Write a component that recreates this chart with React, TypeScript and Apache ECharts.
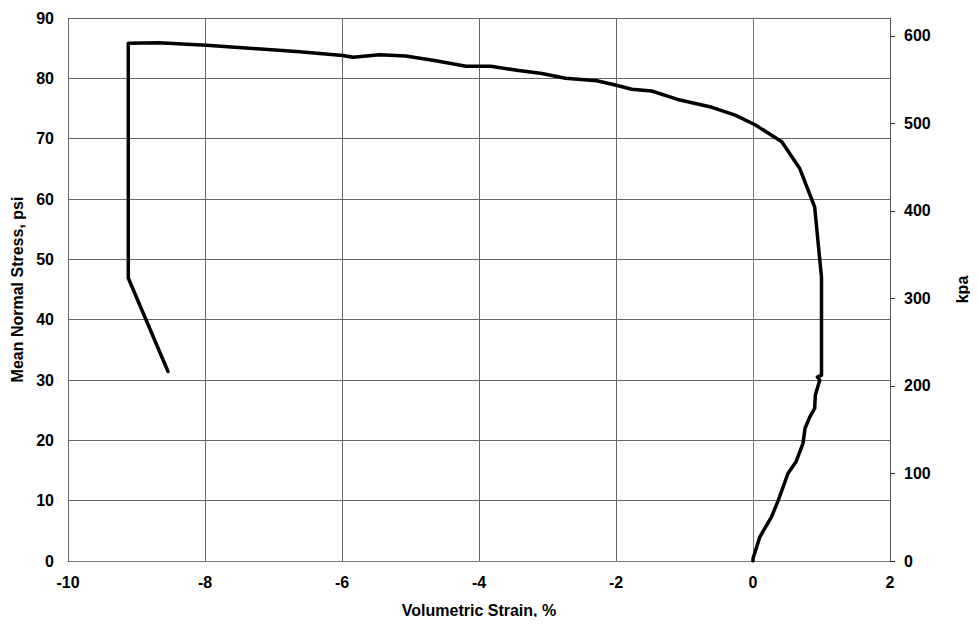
import React, { useEffect, useRef } from "react";
import * as echarts from "echarts";

const strainPct = [
  0.0, 0.0, 0.1, 0.27, 0.37, 0.51, 0.63, 0.73, 0.76, 0.83, 0.9, 0.91, 0.975, 0.94, 1.0,
  1.0, 1.0, 0.975, 0.9, 0.68, 0.42, 0.03, -0.26, -0.6, -1.1, -1.48, -1.77, -2.01, -2.28,
  -2.74, -3.08, -3.42, -3.83, -4.19, -4.63, -5.07, -5.45, -5.84, -5.99, -6.62, -7.35,
  -7.98, -8.68, -9.12, -9.12, -9.12, -8.54,
];
const stressPsi = [
  0.0, 0.4, 4.0, 7.3, 10.1, 14.5, 16.5, 19.5, 22.0, 23.9, 25.3, 27.5, 30.0, 30.5, 30.8,
  43.3, 47.0, 49.9, 58.7, 65.1, 69.5, 72.3, 73.9, 75.2, 76.5, 77.9, 78.2, 78.9, 79.6,
  80.0, 80.8, 81.3, 82.0, 82.0, 82.9, 83.7, 83.9, 83.5, 83.8, 84.4, 85.0,
  85.5, 85.9, 85.8, 60.0, 46.9, 31.4,
];

const xTicks = { min: -10, max: 2, interval: 2 };
const psiTicks = { min: 0, max: 90, interval: 10 };
const KPA_PER_PSI = 6.89476;
const kpaTicks = { min: 0, max: 90 * KPA_PER_PSI, interval: 100 };

const FONT = "'Liberation Sans', Arial, sans-serif";

export default function App() {
  const ref = useRef<HTMLDivElement>(null);
  useEffect(() => {
    if (!ref.current) return;
    const chart = echarts.init(ref.current, undefined, { renderer: "svg" });
    const labelStyle = { color: "#000", fontWeight: "bold" as const, fontSize: 16, fontFamily: FONT };
    const nameStyle = { color: "#000", fontWeight: "bold" as const, fontSize: 16, fontFamily: FONT };
    chart.setOption({
      animation: false,
      backgroundColor: "#fff",
      grid: { left: 68, right: 85, top: 18, bottom: 64, containLabel: false },
      xAxis: {
        type: "value",
        min: xTicks.min,
        max: xTicks.max,
        interval: xTicks.interval,
        name: "Volumetric Strain, %",
        nameLocation: "middle",
        nameGap: 41,
        nameTextStyle: nameStyle,
        axisLine: { show: true, onZero: false, lineStyle: { color: "#777", width: 1 } },
        axisTick: { show: false },
        axisLabel: { ...labelStyle, margin: 13 },
        splitLine: { show: true, lineStyle: { color: "#666", width: 1 } },
      },
      yAxis: [
        {
          type: "value",
          min: psiTicks.min,
          max: psiTicks.max,
          interval: psiTicks.interval,
          name: "Mean Normal Stress, psi",
          nameLocation: "middle",
          nameGap: 36,
          nameTextStyle: nameStyle,
          axisLine: { show: true, lineStyle: { color: "#777", width: 1 } },
          axisTick: { show: false },
          axisLabel: { ...labelStyle, margin: 14 },
          splitLine: { show: true, lineStyle: { color: "#666", width: 1 } },
        },
        {
          type: "value",
          position: "right",
          min: kpaTicks.min,
          max: kpaTicks.max,
          interval: kpaTicks.interval,
          name: "kpa",
          nameLocation: "middle",
          nameGap: 64,
          nameTextStyle: nameStyle,
          axisLine: { show: true, lineStyle: { color: "#555", width: 1 } },
          axisTick: { show: true, inside: false, length: 5, lineStyle: { color: "#333" } },
          axisLabel: {
            ...labelStyle,
            margin: 14,
            showMaxLabel: false,
            formatter: (v: number) => (Math.abs(v % 100) < 1e-6 ? String(Math.round(v)) : ""),
          },
          splitLine: { show: false },
        },
      ],
      series: [
        {
          type: "line",
          yAxisIndex: 0,
          showSymbol: false,
          symbol: "none",
          lineStyle: { color: "#000", width: 3.5, join: "round", cap: "round" },
          data: strainPct.map((x, i) => [x, stressPsi[i]]),
        },
      ],
    });
    return () => chart.dispose();
  }, []);
  return <div ref={ref} style={{ width: 978, height: 625, margin: -8 }} />;
}
